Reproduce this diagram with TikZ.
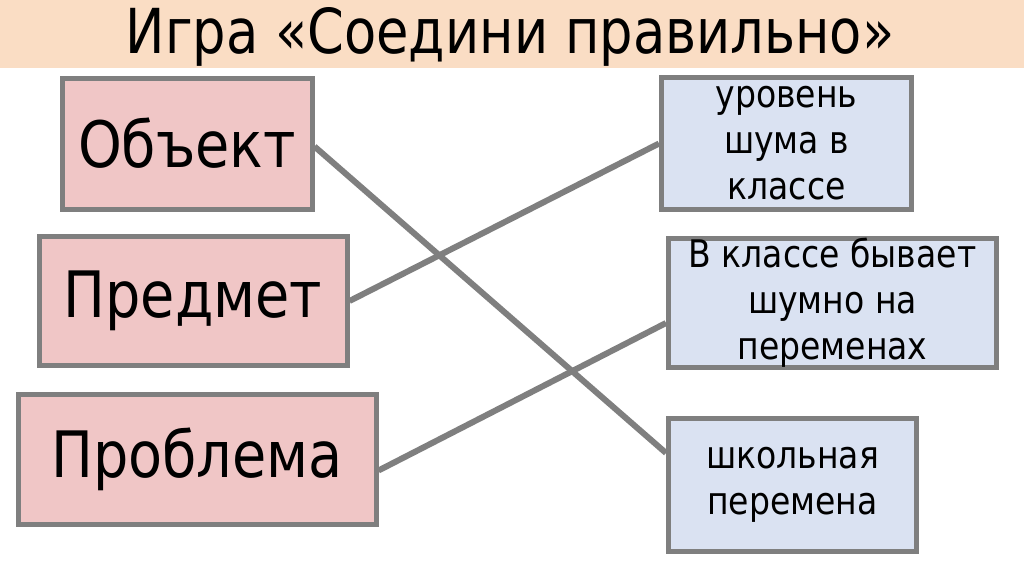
\documentclass[tikz,border=0pt]{standalone}
\usepackage{fontspec}
\setmainfont{DejaVu Sans}
\newfontfamily\titlefont[FakeStretch=0.85]{DejaVu Sans}
\newfontfamily\boxfont[FakeStretch=0.87]{DejaVu Sans}
\definecolor{band}{HTML}{FADDC4}
\definecolor{edgegray}{HTML}{7F7F7F}
\definecolor{pinkfill}{HTML}{F0C6C6}
\definecolor{bluefill}{HTML}{DAE2F2}
\tikzset{
  leftbox/.style={draw=edgegray, line width=5pt, fill=pinkfill, inner sep=0pt,
    font=\boxfont\fontsize{64}{66}\selectfont},
  rightbox/.style={draw=edgegray, line width=5pt, fill=bluefill, inner sep=0pt,
    align=center, font=\boxfont\fontsize{38}{46}\selectfont},
  link/.style={draw=edgegray, line width=6pt}
}
\begin{document}
\begin{tikzpicture}[x=1pt,y=-1pt]
\useasboundingbox (0,0) rectangle (1024,574);
\fill[white] (0,0) rectangle (1024,574);
\fill[band] (0,0) rectangle (1024,68);
\node[font=\titlefont\fontsize{62}{64}\selectfont] (title) at (510,37) {Игра «Соедини правильно»};

\node[leftbox, minimum width=250pt, minimum height=131pt] (o1) at (187,143.5) {Объект};
\node[leftbox, minimum width=308pt, minimum height=129pt] (o2) at (193,301) {Предмет};
\node[leftbox, minimum width=358pt, minimum height=130pt] (o3) at (197,459.5) {Проблема};

\node[rightbox, minimum width=250pt, minimum height=132pt] (r1) at (786.5,143.5) {уровень\\шума в\\классе};
\node[rightbox, minimum width=328pt, minimum height=129pt] (r2) at (832.5,303) {В классе бывает\\шумно на\\переменах};
\node[rightbox, minimum width=248pt, minimum height=133pt] (r3) at (792.5,485) {школьная\\перемена};

\draw[link] ([yshift=-3pt]o1.east) -- ([yshift=32pt]r3.west);
\draw[link] (o2.east) -- (r1.west);
\draw[link] ([yshift=-11pt]o3.east) -- ([yshift=-20pt]r2.west);
\end{tikzpicture}
\end{document}
